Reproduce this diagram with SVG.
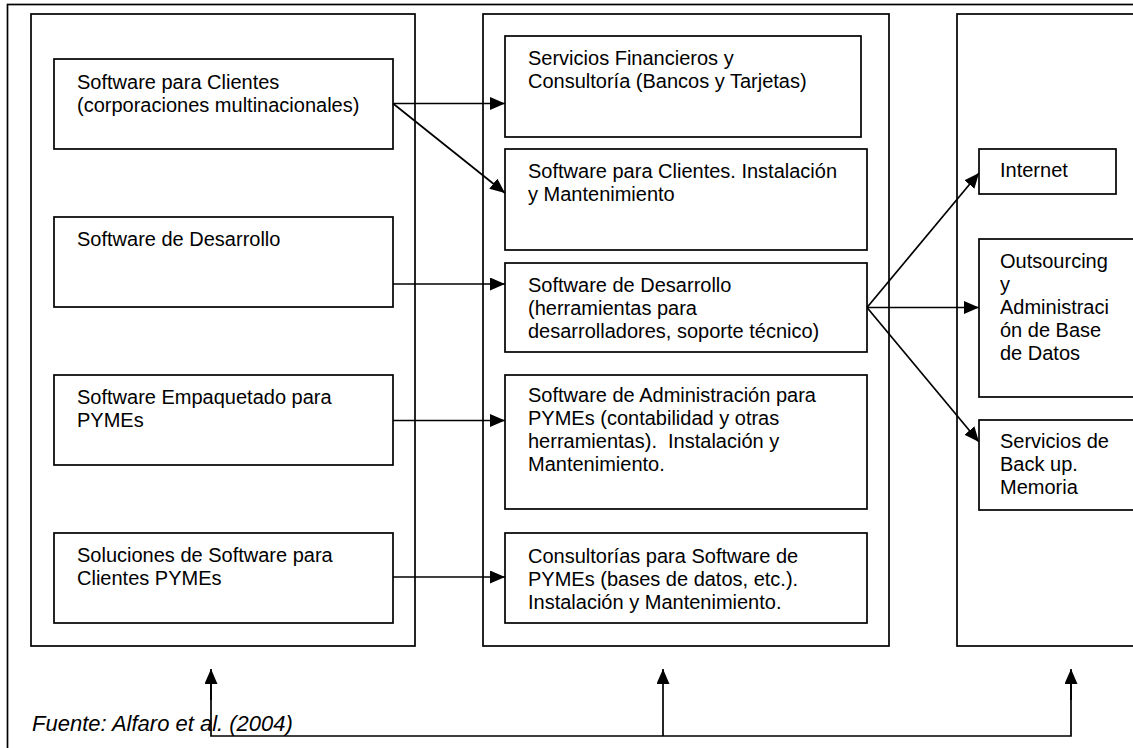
<svg xmlns="http://www.w3.org/2000/svg" width="1133" height="748" viewBox="0 0 1133 748">
<style>
.frame{fill:none;stroke:#000;stroke-width:1.7}
.box{fill:#fff;stroke:#000;stroke-width:1.7}
.t{font-family:"Liberation Sans",Arial,sans-serif;font-size:20px;fill:#000}
.src{font-family:"Liberation Sans",Arial,sans-serif;font-size:22px;font-style:italic;fill:#000}
.ln{fill:none;stroke:#000;stroke-width:1.7}
</style>
<defs>
<marker id="ah" markerUnits="userSpaceOnUse" markerWidth="15" markerHeight="13" refX="15" refY="6.5" orient="auto">
<path d="M0,0 L15,6.5 L0,13 z" fill="#000"/>
</marker>
</defs>
<rect width="1133" height="748" fill="#fff"/>
<rect class="frame" x="7.5" y="4.5" width="1140" height="760"/>
<g id="panels">
<rect class="frame" x="31" y="14" width="384" height="632"/>
<rect class="frame" x="483" y="14" width="406" height="632"/>
<rect class="frame" x="957" y="14" width="200" height="632"/>
</g>
<g id="n-l1"><rect class="box" x="54" y="59" width="339" height="90"/>
<text class="t" x="77" y="89">Software para Clientes</text><text class="t" x="77" y="112">(corporaciones multinacionales)</text></g>
<g id="n-l2"><rect class="box" x="54" y="217" width="339" height="90"/>
<text class="t" x="77" y="246">Software de Desarrollo</text></g>
<g id="n-l3"><rect class="box" x="54" y="375" width="339" height="90"/>
<text class="t" x="77" y="404">Software Empaquetado para</text><text class="t" x="77" y="427">PYMEs</text></g>
<g id="n-l4"><rect class="box" x="54" y="533" width="339" height="90"/>
<text class="t" x="77" y="562">Soluciones de Software para</text><text class="t" x="77" y="585">Clientes PYMEs</text></g>
<g id="n-m1"><rect class="box" x="505" y="36" width="356" height="101"/>
<text class="t" x="528" y="65">Servicios Financieros y</text><text class="t" x="528" y="88">Consultoría (Bancos y Tarjetas)</text></g>
<g id="n-m2"><rect class="box" x="505" y="149" width="362" height="101"/>
<text class="t" x="528" y="178">Software para Clientes. Instalación</text><text class="t" x="528" y="201">y Mantenimiento</text></g>
<g id="n-m3"><rect class="box" x="505" y="263" width="362" height="89"/>
<text class="t" x="528" y="292">Software de Desarrollo</text><text class="t" x="528" y="315">(herramientas para</text><text class="t" x="528" y="338">desarrolladores, soporte técnico)</text></g>
<g id="n-m4"><rect class="box" x="505" y="375" width="362" height="134"/>
<text class="t" x="528" y="402">Software de Administración para</text><text class="t" x="528" y="425">PYMEs (contabilidad y otras</text><text class="t" x="528" y="448">herramientas).&#160; Instalación y</text><text class="t" x="528" y="471">Mantenimiento.</text></g>
<g id="n-m5"><rect class="box" x="505" y="533" width="362" height="90"/>
<text class="t" x="528" y="563">Consultorías para Software de</text><text class="t" x="528" y="586">PYMEs (bases de datos, etc.).</text><text class="t" x="528" y="609">Instalación y Mantenimiento.</text></g>
<g id="n-r1"><rect class="box" x="979" y="149" width="137" height="45"/>
<text class="t" x="1000" y="177">Internet</text></g>
<g id="n-r2"><rect class="box" x="979" y="239" width="200" height="158"/>
<text class="t" x="1000" y="268">Outsourcing</text><text class="t" x="1000" y="291">y</text><text class="t" x="1000" y="314">Administraci</text><text class="t" x="1000" y="337">ón de Base</text><text class="t" x="1000" y="360">de Datos</text></g>
<g id="n-r3"><rect class="box" x="979" y="420" width="200" height="90"/>
<text class="t" x="1000" y="448">Servicios de</text><text class="t" x="1000" y="471">Back up.</text><text class="t" x="1000" y="494">Memoria</text></g>
<g id="connectors">
<line class="ln" x1="393" y1="103.5" x2="505" y2="103.5" marker-end="url(#ah)"/>
<line class="ln" x1="393" y1="103.5" x2="505" y2="193" marker-end="url(#ah)"/>
<line class="ln" x1="393" y1="284" x2="505" y2="284" marker-end="url(#ah)"/>
<line class="ln" x1="393" y1="420.5" x2="505" y2="420.5" marker-end="url(#ah)"/>
<line class="ln" x1="393" y1="577" x2="505" y2="577" marker-end="url(#ah)"/>
<line class="ln" x1="867" y1="307.5" x2="979" y2="173" marker-end="url(#ah)"/>
<line class="ln" x1="867" y1="307.5" x2="979" y2="307.5" marker-end="url(#ah)"/>
<line class="ln" x1="867" y1="307.5" x2="979" y2="442" marker-end="url(#ah)"/>
<polyline class="ln" points="211,680 211,736 1071,736 1071,680"/>
<line class="ln" x1="211" y1="700" x2="211" y2="669" marker-end="url(#ah)"/>
<line class="ln" x1="663" y1="736" x2="663" y2="669" marker-end="url(#ah)"/>
<line class="ln" x1="1071" y1="700" x2="1071" y2="669" marker-end="url(#ah)"/>
</g>
<text class="src" x="32" y="731">Fuente: Alfaro et al. (2004)</text>
</svg>
